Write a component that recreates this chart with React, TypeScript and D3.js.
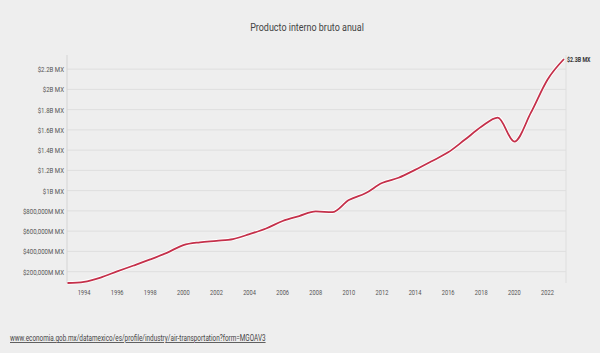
import { useEffect, useRef } from "react";
import * as d3 from "d3";

// Annual GDP, millions of MXN
const years = [1993, 1994, 1995, 1996, 1997, 1998, 1999, 2000, 2001, 2002, 2003, 2004, 2005, 2006, 2007, 2008, 2009, 2010, 2011, 2012, 2013, 2014, 2015, 2016, 2017, 2018, 2019, 2020, 2021, 2022, 2023];
const values = [88, 100, 142, 203, 261, 321, 386, 462, 490, 505, 522, 571, 626, 700, 749, 795, 787, 908, 974, 1075, 1127, 1205, 1290, 1378, 1502, 1630, 1722, 1485, 1770, 2096, 2300];
const yTicks = [200, 400, 600, 800, 1000, 1200, 1400, 1600, 1800, 2000, 2200];
const xTicks = [1994, 1996, 1998, 2000, 2002, 2004, 2006, 2008, 2010, 2012, 2014, 2016, 2018, 2020, 2022];

const fmt = (v: number) => {
  if (v >= 1000) return `$${d3.format("~")(+(v / 1000).toFixed(1))}B MX`;
  return `$${d3.format(",")(v)},000M MX`;
};

const App = () => {
  const ref = useRef<SVGSVGElement>(null);

  useEffect(() => {
    const width = 600, height = 353;
    const margin = { top: 59, right: 34, bottom: 70, left: 67 };
    const font = "Roboto, sans-serif";
    const squeeze = 0.76; // reference font is a condensed face

    const svg = d3.select(ref.current);
    svg.selectAll("*").remove();

    svg.append("rect").attr("width", width).attr("height", height).attr("fill", "#eeeeee");

    // condensed text: draw at origin and move/scale with a transform
    const label = (g: any, tx: number, ty: number, s: string, size: number, anchor: string, fill: string) =>
      g.append("text")
        .attr("transform", `translate(${tx},${ty}) scale(${squeeze},1)`)
        .attr("text-anchor", anchor)
        .attr("font-family", font).attr("font-size", size)
        .attr("fill", fill)
        .text(s);

    const x = d3.scaleLinear()
      .domain([years[0], years[years.length - 1]])
      .range([margin.left + 0.5, width - margin.right - 2]);
    const y = d3.scaleLinear()
      .domain([d3.min(values)!, d3.max(values)!])
      .range([height - margin.bottom, margin.top]);

    label(svg, 307, 31, "Producto interno bruto anual", 11.8, "middle", "#444");

    // grid
    svg.append("g").selectAll("line")
      .data(yTicks)
      .join("line")
      .attr("x1", margin.left).attr("x2", width - margin.right)
      .attr("y1", d => y(d)).attr("y2", d => y(d))
      .attr("stroke", "#dedede").attr("stroke-width", 1);

    const yl = svg.append("g");
    yTicks.forEach(d => label(yl, margin.left - 3, y(d) + 3, fmt(d), 8, "end", "#555"));

    svg.append("line")
      .attr("x1", margin.left).attr("x2", margin.left)
      .attr("y1", 55).attr("y2", height - margin.bottom)
      .attr("stroke", "#d4d4d4");
    svg.append("line")
      .attr("x1", width - margin.right).attr("x2", width - margin.right)
      .attr("y1", 55).attr("y2", height - margin.bottom)
      .attr("stroke", "#dedede");

    const xl = svg.append("g");
    xTicks.forEach(d => label(xl, x(d), height - margin.bottom + 12, String(d), 7.5, "middle", "#555"));

    const data = years.map((yr, i) => ({ yr, v: values[i] }));
    const line = d3.line<{ yr: number; v: number }>()
      .x(d => x(d.yr))
      .y(d => y(d.v))
      .curve(d3.curveMonotoneX);

    svg.append("path")
      .datum(data)
      .attr("fill", "none")
      .attr("stroke", "#ffffff")
      .attr("stroke-width", 3.5)
      .attr("d", line);
    svg.append("path")
      .datum(data)
      .attr("fill", "none")
      .attr("stroke", "#c4304a")
      .attr("stroke-width", 1.8)
      .attr("d", line);

    const last = data[data.length - 1];
    label(svg, x(last.yr) + 3, y(last.v) + 2.5, fmt(last.v), 7, "start", "#333")
      .attr("font-weight", "bold");

    label(svg, 10, 341, "www.economia.gob.mx/datamexico/es/profile/industry/air-transportation?form=MGOAV3", 8.4, "start", "#444")
      .attr("text-decoration", "underline");
  }, []);

  return <svg ref={ref} width={600} height={353} style={{ position: "absolute", left: 0, top: 0 }} />;
};

export default App;
